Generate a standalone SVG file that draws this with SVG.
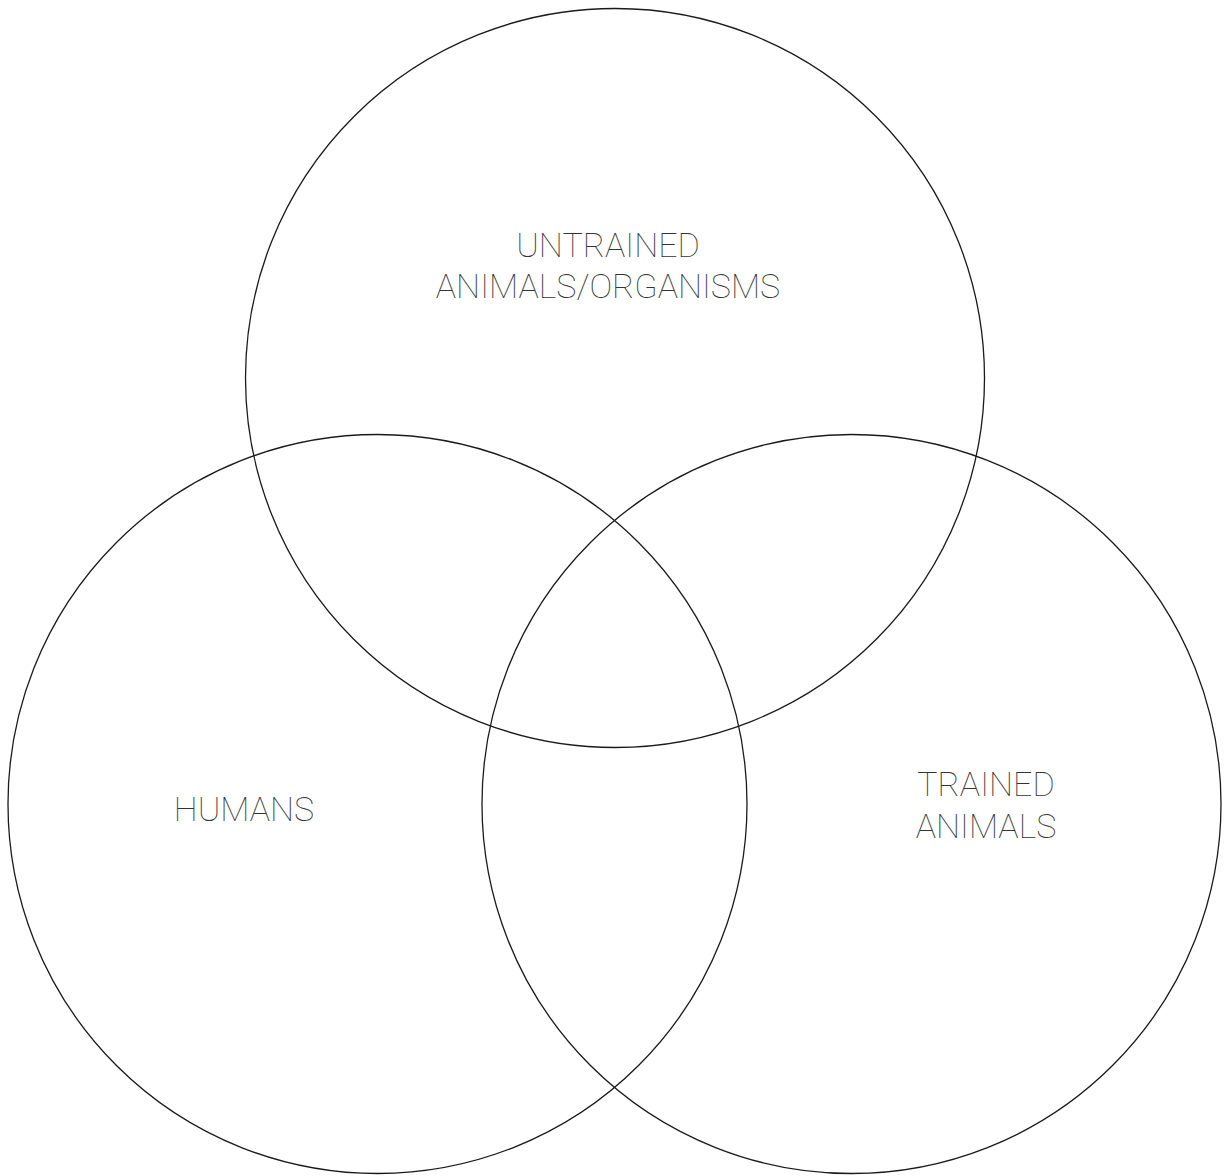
<svg xmlns="http://www.w3.org/2000/svg" width="1224" height="1176" viewBox="0 0 1224 1176">
<style>
.c{fill:none;stroke:#1a1a1a;stroke-width:1.3}
.t{font-family:Roboto,"Liberation Sans",sans-serif;font-weight:100;font-size:34px;fill:#333;text-anchor:middle}
</style>
<rect width="1224" height="1176" fill="#fff"/>
<g id="untrained"><circle class="c" cx="615" cy="378" r="369.5"/>
<text class="t" x="608" y="257">UNTRAINED</text>
<text class="t" x="608" y="298">ANIMALS/ORGANISMS</text></g>
<g id="humans"><circle class="c" cx="377.5" cy="804" r="369.5"/>
<text class="t" x="244" y="821">HUMANS</text></g>
<g id="trained"><circle class="c" cx="851.5" cy="804" r="369.5"/>
<text class="t" x="986" y="796">TRAINED</text>
<text class="t" x="986" y="838">ANIMALS</text></g>
<g id="connectors"/>
</svg>
